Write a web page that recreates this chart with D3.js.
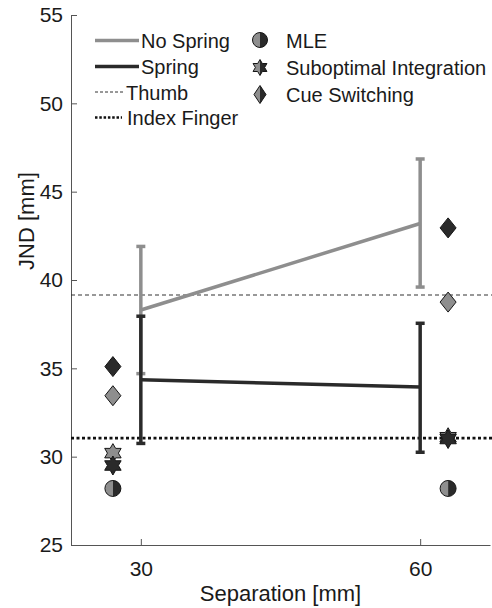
<!DOCTYPE html>
<html>
<head>
<meta charset="utf-8">
<script src="https://cdn.jsdelivr.net/npm/d3@7"></script>
<style>
  body { margin: 0; background: #fff; }
  svg { display: block; font-family: "Liberation Sans", Arial, sans-serif; }
  .axis path, .axis line { stroke: #555; }
  .axis text { font-size: 21px; fill: #1a1a1a; font-family: "Liberation Sans", Arial, sans-serif; }
</style>
</head>
<body>
<div id="chart"></div>
<script>
  var separations = [30, 60];
  var modelX = [27, 63];

  var noSpringMean = [38.3, 43.2],
      noSpringLo = [34.7, 39.6],
      noSpringHi = [41.9, 46.85];

  var springMean = [34.35, 33.95],
      springLo = [30.75, 30.25],
      springHi = [37.95, 37.55];

  var thumbJND = 39.15,
      indexJND = 31.05;

  var mle = [28.2, 28.2];
  var subNoSpring = [30.2, 31.1],
      subSpring = [29.5, 31.0];
  var cueNoSpring = [33.45, 38.75],
      cueSpring = [35.1, 42.95];

  var yTicks = [25, 30, 35, 40, 45, 50, 55];
  var xTicks = [30, 60];

(function() {
  var gray = "#8e8e8e", dark = "#2a2a2a";

  var outerWidth = 492, outerHeight = 608;
  var plotLeft = 71, plotRight = 490, plotTop = 15, plotBottom = 545;

  var svg = d3.select("#chart").append("svg")
      .attr("width", outerWidth)
      .attr("height", outerHeight);

  var x = d3.scaleLinear().domain([22.5, 67.5]).range([plotLeft, plotRight]);
  var y = d3.scaleLinear().domain([25, 55]).range([plotBottom, plotTop]);

  // half clip paths for the two-tone markers
  var defs = svg.append("defs");
  defs.append("clipPath").attr("id", "halfL")
    .append("rect").attr("x", -20).attr("y", -20).attr("width", 20).attr("height", 40);
  defs.append("clipPath").attr("id", "halfR")
    .append("rect").attr("x", 0).attr("y", -20).attr("width", 20).attr("height", 40);

  function starPath(R) {
    var r = R / Math.sqrt(3), pts = [];
    for (var i = 0; i < 12; i++) {
      var a = -Math.PI / 2 + i * Math.PI / 6, rr = i % 2 ? r : R;
      pts.push([rr * Math.cos(a), rr * Math.sin(a)]);
    }
    return "M" + pts.join("L") + "Z";
  }
  function diamondPath(w, h) {
    return "M0," + (-h / 2) + "L" + (w / 2) + ",0L0," + (h / 2) + "L" + (-w / 2) + ",0Z";
  }
  function circlePath(r) {
    return "M" + (-r) + ",0A" + r + "," + r + " 0 1,1 " + r + ",0A" + r + "," + r + " 0 1,1 " + (-r) + ",0Z";
  }

  function marker(g, d, fill) {
    g.append("path").attr("d", d).attr("fill", fill)
      .attr("stroke", "#151515").attr("stroke-width", 1);
  }
  function halfMarker(g, d) {
    g.append("path").attr("d", d).attr("fill", gray).attr("clip-path", "url(#halfL)");
    g.append("path").attr("d", d).attr("fill", dark).attr("clip-path", "url(#halfR)");
    g.append("path").attr("d", d).attr("fill", "none")
      .attr("stroke", "#151515").attr("stroke-width", 1);
  }

  // axes
  svg.append("g")
      .attr("class", "axis")
      .attr("transform", "translate(" + plotLeft + ",0)")
      .call(d3.axisLeft(y).tickValues(yTicks).tickSizeInner(-6).tickSizeOuter(0).tickPadding(8));

  svg.append("g")
      .attr("class", "axis")
      .attr("transform", "translate(0," + plotBottom + ")")
      .call(d3.axisBottom(x).tickValues(xTicks).tickSizeInner(-6).tickSizeOuter(0).tickPadding(16));

  svg.append("text")
      .attr("transform", "translate(34,221) rotate(-90)")
      .attr("text-anchor", "middle")
      .style("font-size", "22px")
      .attr("fill", "#1a1a1a")
      .text("JND [mm]");

  svg.append("text")
      .attr("x", (plotLeft + plotRight) / 2)
      .attr("y", 601)
      .attr("text-anchor", "middle")
      .style("font-size", "22px")
      .attr("fill", "#1a1a1a")
      .text("Separation [mm]");

  // unimodal reference lines
  svg.append("line")
      .attr("x1", plotLeft).attr("x2", outerWidth)
      .attr("y1", y(thumbJND)).attr("y2", y(thumbJND))
      .attr("stroke", "#333").attr("stroke-width", 1.2)
      .attr("stroke-dasharray", "4,3");

  svg.append("line")
      .attr("x1", plotLeft).attr("x2", outerWidth)
      .attr("y1", y(indexJND)).attr("y2", y(indexJND))
      .attr("stroke", "#111").attr("stroke-width", 2.6)
      .attr("stroke-dasharray", "3,2.5");

  // condition lines with error bars
  function condition(mean, lo, hi, color) {
    var g = svg.append("g");
    g.append("path")
        .datum(separations.map((s, i) => [s, mean[i]]))
        .attr("fill", "none")
        .attr("stroke", color)
        .attr("stroke-width", 3.5)
        .attr("d", d3.line().x(d => x(d[0])).y(d => y(d[1])));
    separations.forEach((s, i) => {
      g.append("line")
          .attr("x1", x(s)).attr("x2", x(s))
          .attr("y1", y(lo[i])).attr("y2", y(hi[i]))
          .attr("stroke", color).attr("stroke-width", 3.5);
      [lo[i], hi[i]].forEach(v => {
        g.append("line")
            .attr("x1", x(s) - 4.5).attr("x2", x(s) + 4.5)
            .attr("y1", y(v)).attr("y2", y(v))
            .attr("stroke", color).attr("stroke-width", 3.5);
      });
    });
  }
  condition(noSpringMean, noSpringLo, noSpringHi, gray);
  condition(springMean, springLo, springHi, dark);

  // model predictions
  modelX.forEach((mx, i) => {
    var px = x(mx);
    marker(svg.append("g").attr("transform", "translate(" + px + "," + y(cueNoSpring[i]) + ")"), diamondPath(16, 20), gray);
    marker(svg.append("g").attr("transform", "translate(" + px + "," + y(cueSpring[i]) + ")"), diamondPath(16, 20), dark);
    marker(svg.append("g").attr("transform", "translate(" + px + "," + y(subNoSpring[i]) + ")"), starPath(9.5), gray);
    marker(svg.append("g").attr("transform", "translate(" + px + "," + y(subSpring[i]) + ")"), starPath(9.5), dark);
    halfMarker(svg.append("g").attr("transform", "translate(" + px + "," + y(mle[i]) + ")"), circlePath(8));
  });

  // legend
  var legend = svg.append("g").attr("class", "legend")
      .style("font-size", "20px").attr("fill", "#1a1a1a");

  var lineItems = [
    {label: "No Spring", y: 40.5, color: gray, w: 3.5, dash: null, x2: 139, tx: 141},
    {label: "Spring", y: 66.5, color: dark, w: 3.5, dash: null, x2: 139, tx: 141},
    {label: "Thumb", y: 92, color: "#333", w: 1, dash: "3,2", x2: 123, tx: 126},
    {label: "Index Finger", y: 117.5, color: "#111", w: 2.4, dash: "2.5,1.8", x2: 122, tx: 127}
  ];
  lineItems.forEach(d => {
    legend.append("line")
        .attr("x1", 95).attr("x2", d.x2)
        .attr("y1", d.y).attr("y2", d.y)
        .attr("stroke", d.color).attr("stroke-width", d.w)
        .attr("stroke-dasharray", d.dash);
    legend.append("text")
        .attr("x", d.tx).attr("y", d.y + 7.5)
        .text(d.label);
  });

  var markerItems = [
    {label: "MLE", y: 40, d: circlePath(7.5)},
    {label: "Suboptimal Integration", y: 67.5, d: starPath(8)},
    {label: "Cue Switching", y: 94.5, d: diamondPath(12, 18)}
  ];
  markerItems.forEach(d => {
    halfMarker(legend.append("g").attr("transform", "translate(260," + d.y + ")"), d.d);
    legend.append("text")
        .attr("x", 286).attr("y", d.y + 7.5)
        .text(d.label);
  });
})();
</script>
</body>
</html>
